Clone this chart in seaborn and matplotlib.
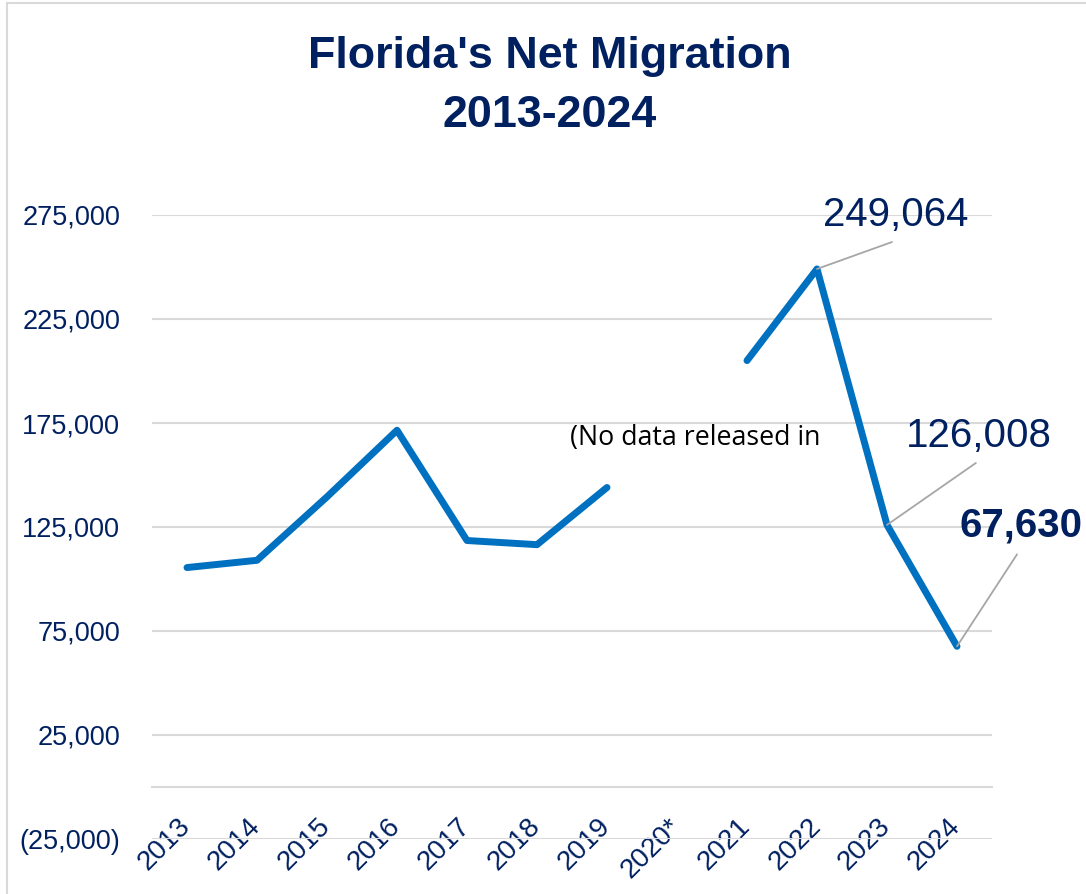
import numpy as np
import pandas as pd
import seaborn as sns
import matplotlib.pyplot as plt
from matplotlib.patches import Rectangle
from matplotlib.transforms import ScaledTranslation

# chart data
years = ['2013', '2014', '2015', '2016', '2017', '2018', '2019', '2020*', '2021', '2022', '2023', '2024']
net_migration = [105500, 109000, 139500, 171500, 118500, 116500, 144000, np.nan, 205000, 249064, 126008, 67630]
labelled = {'2022': '249,064', '2023': '126,008', '2024': '67,630'}
yticks = [-25000, 25000, 75000, 125000, 175000, 225000, 275000]

navy = '#002060'
blue = '#0070C0'
grid = '#D9D9D9'

df = pd.DataFrame({'year': years, 'value': net_migration})
df['pos'] = np.arange(len(df))
# break the line where 2020 is missing
df['segment'] = df['value'].isna().cumsum()
df = df.dropna()

sns.set_style('white')
plt.rcParams['font.family'] = ['Liberation Sans', 'DejaVu Sans']

fig = plt.figure(figsize=(10.86, 8.94), dpi=100)
ax = fig.add_axes([152 / 1086, 55 / 894, 840 / 1086, 624 / 894])

sns.lineplot(data=df, x='pos', y='value', units='segment', estimator=None,
             color=blue, linewidth=5, solid_capstyle='round', solid_joinstyle='round', ax=ax)

# axis line sits at zero (do this first, it resets the ticks)
for side in ['left', 'right', 'top']:
    ax.spines[side].set_visible(False)
ax.spines['bottom'].set_position(('data', 0))
ax.spines['bottom'].set_color(grid)
ax.spines['bottom'].set_linewidth(1.5)

ax.set_xlim(-0.5, len(years) - 0.5)
ax.set_ylim(-25000, 275000)
ax.tick_params(axis='y', length=0, pad=23, labelsize=19.5, labelcolor=navy)
ax.tick_params(axis='x', length=0, pad=19, labelsize=20, labelcolor=navy)
ax.set_yticks(yticks)
ax.set_yticklabels([f'({abs(v):,})' if v < 0 else f'{v:,}' for v in yticks])
ax.set_xticks(np.arange(len(years)))
ax.set_xticklabels(years, rotation=45, ha='right')
shift = ScaledTranslation(0.09, 0, fig.dpi_scale_trans)
for lbl in ax.get_xticklabels():
    lbl.set_transform(lbl.get_transform() + shift)
ax.set_xlabel('')
ax.set_ylabel('')

ax.grid(axis='y', color=grid, linewidth=1.5)
ax.grid(axis='x', visible=False)

# data labels with leader lines
offsets = {
    '2022': ((54, 19.4), (57, 31), 'normal'),
    '2023': ((64, 44.6), (66, 56), 'normal'),
    '2024': ((43.2, 66.2), (46, 79), 'bold'),
}
for yr, txt in labelled.items():
    row = df[df['year'] == yr].iloc[0]
    line_end, text_off, weight = offsets[yr]
    ax.annotate('', xy=(row['pos'], row['value']), xytext=line_end, textcoords='offset points',
                arrowprops=dict(arrowstyle='-', color='#A6A6A6', lw=1.3, shrinkA=0, shrinkB=0),
                annotation_clip=False)
    ax.annotate(txt, xy=(row['pos'], row['value']), xytext=text_off, textcoords='offset points',
                ha='center', va='baseline', fontsize=29, color=navy, fontweight=weight,
                annotation_clip=False)

ax.text((570 - 152) / 840, (839 - 445) / 624, '(No data released in', transform=ax.transAxes,
        fontsize=19.3, color='black', family=['Open Sans', 'DejaVu Sans'], ha='left', va='baseline')

fig.text(550 / 1086, 1 - 68 / 894, "Florida's Net Migration", ha='center', va='baseline',
         fontsize=32.3, fontweight='bold', color=navy)
fig.text(550 / 1086, 1 - 127 / 894, '2013-2024', ha='center', va='baseline',
         fontsize=32.3, fontweight='bold', color=navy)

# chart border (only top and left edges visible in the crop)
fig.add_artist(Rectangle((7 / 1086, -0.1), 1.2, 1.1 - 3 / 894, transform=fig.transFigure,
                         fill=False, edgecolor=grid, linewidth=1.5))

fig.savefig('out.png', dpi=100)
